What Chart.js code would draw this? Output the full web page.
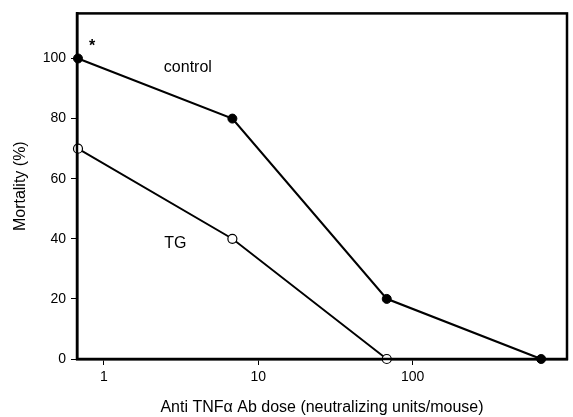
<!DOCTYPE html>
<html><head><meta charset="utf-8">
<script src="https://cdn.jsdelivr.net/npm/chart.js@4/dist/chart.umd.min.js"></script>
<style>html,body{margin:0;padding:0;background:#fff}#wrap{width:573px;height:417px}</style>
</head><body><div id="wrap"><canvas id="c" width="573" height="417"></canvas></div>
<script>
const doses = [0.68, 6.8, 68, 680];
const controlMortality = [100, 80, 20, 0];
const tgDoses = [0.68, 6.8, 68];
const tgMortality = [70, 40, 0];
const xTicks = [1, 10, 100];
const yTicks = [0, 20, 40, 60, 80, 100];
const annotations = [
  {text: 'control', x: 3.5, y: 97},
  {text: 'TG', x: 2.9, y: 38.5},
  {text: '*', x: 0.84, y: 104}
];
const FONT = '"Liberation Sans", Arial, sans-serif';

const framePlugin = {
  id: 'frame',
  afterDatasetsDraw(chart) {
    const {ctx, chartArea: a, scales} = chart;
    ctx.save();
    ctx.strokeStyle = '#000';
    ctx.lineWidth = 2.5;
    ctx.strokeRect(a.left, a.top, a.right - a.left, a.bottom - a.top);
    ctx.fillStyle = '#000';
    ctx.textAlign = 'center';
    ctx.textBaseline = 'middle';
    annotations.forEach(an => {
      ctx.font = (an.text === '*' ? 'bold 16px ' : '16px ') + FONT;
      ctx.fillText(an.text, scales.x.getPixelForValue(an.x), scales.y.getPixelForValue(an.y));
    });
    ctx.restore();
  }
};

new Chart(document.getElementById('c'), {
  type: 'line',
  data: {
    datasets: [
      {label: 'control', data: doses.map((d, i) => ({x: d, y: controlMortality[i]})),
       borderColor: '#000', borderWidth: 2.2, backgroundColor: '#000',
       pointBackgroundColor: '#000', pointBorderColor: '#000', pointRadius: 4.5, pointBorderWidth: 1, clip: false},
      {label: 'TG', data: tgDoses.map((d, i) => ({x: d, y: tgMortality[i]})),
       borderColor: '#000', borderWidth: 1.9, backgroundColor: '#fff',
       pointBackgroundColor: '#fff', pointBorderColor: '#000', pointRadius: 4.5, pointBorderWidth: 1.2, clip: false}
    ]
  },
  options: {
    responsive: false,
    animation: false,
    layout: {padding: {top: 13, right: 6, left: 0, bottom: 0}},
    plugins: {legend: {display: false}, tooltip: {enabled: false}},
    scales: {
      x: {
        type: 'logarithmic', min: 0.67, max: 1000,
        afterBuildTicks: s => { s.ticks = xTicks.map(v => ({value: v})); },
        afterFit: s => { s.height = 58; },
        ticks: {color: '#000', font: {family: FONT, size: 14}, padding: 4, maxRotation: 0,
                callback: v => String(v)},
        grid: {drawOnChartArea: false, tickLength: 6, color: '#000', tickWidth: 1},
        border: {display: true, color: '#000', width: 2.5},
        title: {display: true, text: 'Anti TNF\u03b1 Ab dose (neutralizing units/mouse)', color: '#000',
                font: {family: FONT, size: 16}, padding: {top: 0, bottom: 0}}
      },
      y: {
        min: 0, max: 115,
        afterBuildTicks: s => { s.ticks = yTicks.map(v => ({value: v})); },
        afterFit: s => { s.width = 77; },
        ticks: {color: '#000', font: {family: FONT, size: 14}, padding: 5},
        grid: {drawOnChartArea: false, tickLength: 6, color: '#000', tickWidth: 1},
        border: {display: true, color: '#000', width: 2.5},
        title: {display: true, text: 'Mortality (%)', color: '#000',
                font: {family: FONT, size: 16}, padding: {top: 11, bottom: 0}}
      }
    }
  },
  plugins: [framePlugin]
});
</script></body></html>
